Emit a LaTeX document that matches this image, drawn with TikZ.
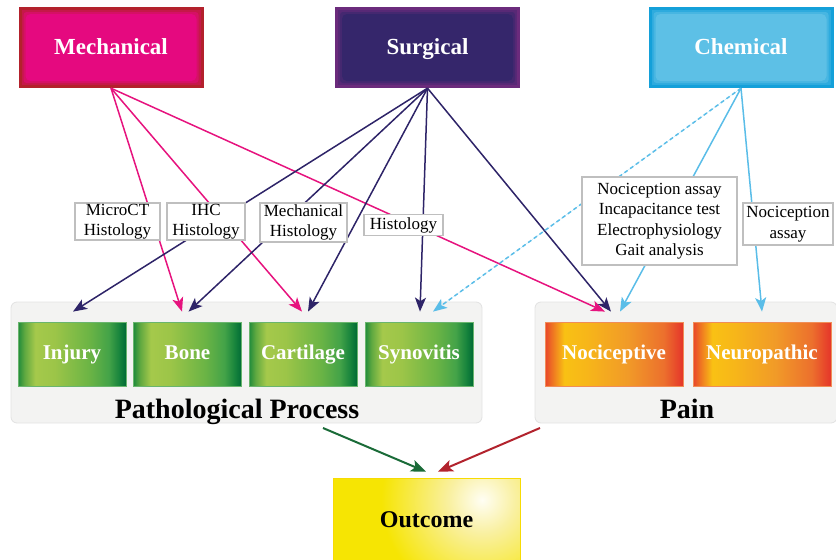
\documentclass[tikz,border=0pt]{standalone}
\usepackage{fontspec}
\setmainfont{Liberation Serif}
\usetikzlibrary{arrows.meta}
\definecolor{mechB}{HTML}{B3212C}
\definecolor{mechF}{HTML}{E5097F}
\definecolor{surgB}{HTML}{6B2B7C}
\definecolor{surgF}{HTML}{35266B}
\definecolor{chemB}{HTML}{14A0D9}
\definecolor{chemF}{HTML}{5DC0E6}
\definecolor{pinkL}{HTML}{E6137E}
\definecolor{navyL}{HTML}{2E2468}
\definecolor{blueL}{HTML}{5ABDE8}
\definecolor{grpF}{HTML}{F3F3F2}
\definecolor{grpD}{HTML}{E2E2E2}
\definecolor{outY}{HTML}{F6E503}
\definecolor{outL}{HTML}{F9F0A0}
\definecolor{outW}{HTML}{FFFEF4}
\definecolor{arrG}{HTML}{1A6B38}
\definecolor{arrR}{HTML}{B2232D}
\definecolor{gA}{HTML}{1F8B3B}
\definecolor{gB}{HTML}{5FA840}
\definecolor{gC}{HTML}{A5C94B}
\definecolor{gD}{HTML}{9CC548}
\definecolor{gE}{HTML}{6BB445}
\definecolor{gF}{HTML}{44A348}
\definecolor{gG}{HTML}{16833C}
\definecolor{gH}{HTML}{006A35}
\definecolor{oA}{HTML}{E8452B}
\definecolor{oB}{HTML}{F9C114}
\definecolor{oC}{HTML}{F7B619}
\definecolor{oD}{HTML}{F19A28}
\definecolor{oE}{HTML}{EC702D}
\definecolor{oF}{HTML}{E5352A}
\pgfdeclarehorizontalshading{greenbar}{100bp}{color(0bp)=(gA); color(25bp)=(gA); color(28bp)=(gB); color(33bp)=(gC); color(42bp)=(gD); color(58bp)=(gE); color(67bp)=(gF); color(72bp)=(gG); color(75bp)=(gH); color(100bp)=(gH)}
\pgfdeclarehorizontalshading{orangebar}{100bp}{color(0bp)=(oA); color(25bp)=(oA); color(32bp)=(oB); color(40bp)=(oC); color(55bp)=(oD); color(68bp)=(oE); color(75bp)=(oF); color(100bp)=(oF)}
\pgfdeclareradialshading{outglow}{\pgfpoint{0bp}{0bp}}{color(0bp)=(outW); color(4bp)=(outL); color(12bp)=(outY); color(50bp)=(outY)}
\tikzset{
  titlebox/.style 2 args={minimum width=185, minimum height=81, inner sep=0, fill=#1,
    text=white, font=\bfseries\fontsize{23}{27}\selectfont, text height=16, text depth=3,
    path picture={
      \fill[#2!35!#1] ([shift={(3,3)}]path picture bounding box.north west) rectangle ([shift={(-3,-3)}]path picture bounding box.south east);
      \fill[#2!70!#1, rounded corners=3] ([shift={(5,5)}]path picture bounding box.north west) rectangle ([shift={(-5,-5)}]path picture bounding box.south east);
      \fill[#2, rounded corners=5] ([shift={(7,7)}]path picture bounding box.north west) rectangle ([shift={(-7,-7)}]path picture bounding box.south east);
    }},
  grp/.style={fill=grpF, draw=grpD, line width=0.8, rounded corners=6, inner sep=0},
  grptext/.style={font=\bfseries\fontsize{28}{32}\selectfont, text=black},
  greenbox/.style={shading=greenbar, draw=gF!80!white, line width=0.8, minimum width=108, minimum height=64, inner sep=0,
    text=white, font=\bfseries\fontsize{21}{25}\selectfont, text height=14.5, text depth=4.5},
  orangebox/.style={shading=orangebar, draw=oE!80!white, line width=0.8, minimum width=138, minimum height=64, inner sep=0,
    text=white, font=\bfseries\fontsize{21}{25}\selectfont, text height=14.5, text depth=4.5},
  lab/.style={fill=white, draw=black!25, line width=1.6, inner sep=0, align=center,
    font=\fontsize{17}{20.5}\selectfont},
  conn/.style={line width=1.5, -{Stealth[length=14pt,width=11pt,inset=3.5pt]}},
  pinkc/.style={conn, draw=pinkL, fill=pinkL},
  navyc/.style={conn, draw=navyL, fill=navyL},
  bluec/.style={conn, draw=blueL, fill=blueL},
  botarrow/.style={line width=2, -{Stealth[length=15pt,width=12pt,inset=3.5pt]}}
}
\begin{document}
\begin{tikzpicture}[x=1pt,y=-1pt]
\useasboundingbox (0,0) rectangle (836,560);
% groups
\node[grp, minimum width=471, minimum height=121] (pp) at (246.5,362.5) {};
\node[grp, minimum width=302, minimum height=121] (painbox) at (686,362.5) {};
\node[grptext, anchor=base] (pptext) at (237,418) {Pathological Process};
\node[grptext, anchor=base] (paintext) at (687,418) {Pain};
% boxes
\node[greenbox] (injury) at (72,354) {Injury};
\node[greenbox] (bone) at (187.5,354) {Bone};
\node[greenbox] (cart) at (303,354) {Cartilage};
\node[greenbox] (syno) at (419,354) {Synovitis};
\node[orangebox] (noci) at (614,354) {Nociceptive};
\node[orangebox] (neuro) at (762,354) {Neuropathic};
% titles
\node[titlebox={mechB}{mechF}] (mech) at (111,47.5) {Mechanical};
\node[titlebox={surgB}{surgF}] (surg) at (427.5,47.5) {Surgical};
\node[titlebox={chemB}{chemF}] (chem) at (741,47.5) {Chemical};
% outcome
\node[fill=outY, draw=outY!90!orange, line width=0.6, minimum width=187, minimum height=84, inner sep=0,
  path picture={\shade[shading=outglow] ([shift={(55.5,-20)}]path picture bounding box.center) circle (210);}] (outcome) at (426.5,520) {};
\node[font=\bfseries\fontsize{24}{28}\selectfont, anchor=base] (outtext) at (426.5,527) {Outcome};
% connectors
\draw[pinkc] (mech.south) -- ([xshift=-5.5,yshift=10]bone.north);
\draw[pinkc] (mech.south) -- ([xshift=-1,yshift=10]cart.north);
\draw[pinkc] (mech.south) -- ([xshift=-9,yshift=10]noci.north);
\draw[navyc] (surg.south) -- ([xshift=1,yshift=10]injury.north);
\draw[navyc] (surg.south) -- ([xshift=1,yshift=10]bone.north);
\draw[navyc] (surg.south) -- ([xshift=5,yshift=10]cart.north);
\draw[navyc] (surg.south) -- ([xshift=1,yshift=10]syno.north);
\draw[navyc] (surg.south) -- ([xshift=-3,yshift=10]noci.north);
\draw[bluec, dash pattern=on 4pt off 3pt] (chem.south) -- ([xshift=14,yshift=10]syno.north);
\draw[bluec] (chem.south) -- ([xshift=6,yshift=10]noci.north);
\draw[bluec] (chem.south) -- ([yshift=10]neuro.north);
% labels
\node[lab, minimum width=85, minimum height=37] (microct) at (117.5,221.5) {MicroCT\\Histology};
\node[lab, minimum width=78, minimum height=37] (ihc) at (206,221.5) {IHC\\Histology};
\node[lab, minimum width=87, minimum height=39] (mechhist) at (303.5,222.5) {Mechanical\\Histology};
\node[lab, minimum width=79, minimum height=21] (hist) at (403.5,225) {Histology};
\node[lab, minimum width=155, minimum height=88] (chemlab) at (659.5,221) {Nociception assay\\Incapacitance test\\Electrophysiology\\Gait analysis};
\node[lab, minimum width=90, minimum height=42] (chemlab2) at (788,224) {Nociception\\assay};
% bottom arrows
\coordinate (ppout) at (323,428);
\coordinate (painout) at (540,428);
\draw[botarrow, draw=arrG, fill=arrG] (ppout) -- ([xshift=-0.5,yshift=6]outcome.north);
\draw[botarrow, draw=arrR, fill=arrR] (painout) -- ([xshift=11.5,yshift=6]outcome.north);
\end{tikzpicture}
\end{document}
